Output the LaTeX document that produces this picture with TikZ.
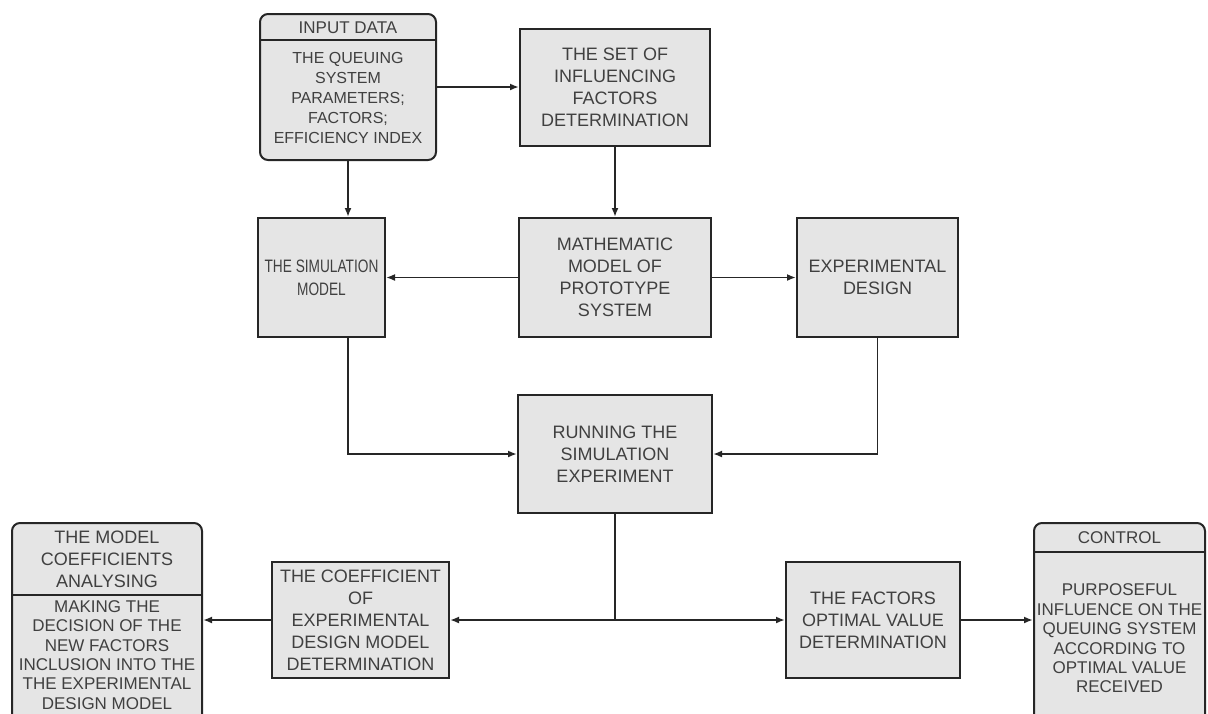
\documentclass[tikz,border=0pt]{standalone}
\usepackage{fontspec}
\setmainfont{Liberation Sans}
\newfontfamily\narrowsans{Liberation Sans}[FakeStretch=0.76]
\usetikzlibrary{arrows.meta}

\begin{document}
\begin{tikzpicture}[x=1pt,y=-1pt,>={Latex[length=9pt,width=7pt]},line width=1.8pt,
  box/.style={draw=black!85,fill=black!10,line width=2pt,text=black!75,align=center,
    font=\fontsize{18}{22}\selectfont,inner sep=2pt},
  boxtext/.style={text=black!75,align=center,font=\fontsize{17}{20}\selectfont,inner sep=0pt},
  conn/.style={draw=black!85,->}]

  \useasboundingbox (0,0) rectangle (1208,713);
  \clip (0,0) rectangle (1208,713);

  % top row
  \node[box,rounded corners=8pt,minimum width=176pt,minimum height=146pt] (input) at (348,87) {};
  \node[boxtext] (inputhead) at (348,27.5) {INPUT DATA};
  \node[boxtext,font=\fontsize{16}{20}\selectfont] (inputbody) at (348,98) {THE QUEUING\\SYSTEM\\PARAMETERS;\\FACTORS;\\EFFICIENCY INDEX};
  \draw[black!85,line width=2pt] ([yshift=-27pt]input.north west) -- ([yshift=-27pt]input.north east);

  \node[box,minimum width=190pt,minimum height=117pt] (set) at (615,87) {THE SET OF\\INFLUENCING\\FACTORS\\DETERMINATION};

  % middle row
  \node[box,font=\narrowsans\fontsize{18}{23}\selectfont,minimum width=127pt,minimum height=119pt] (sim) at (321.5,277.5) {THE SIMULATION\\MODEL};
  \node[box,minimum width=192pt,minimum height=119pt] (math) at (615,277.5) {MATHEMATIC\\MODEL OF\\PROTOTYPE\\SYSTEM};
  \node[box,minimum width=161pt,minimum height=119pt] (exp) at (877.5,277.5) {EXPERIMENTAL\\DESIGN};
  \node[box,minimum width=194pt,minimum height=118pt] (run) at (615,454) {RUNNING THE\\SIMULATION\\EXPERIMENT};

  % bottom row
  \node[box,minimum width=177pt,minimum height=116pt] (coef) at (360.5,620) {THE COEFFICIENT\\OF\\EXPERIMENTAL\\DESIGN MODEL\\DETERMINATION};
  \node[box,minimum width=174pt,minimum height=116pt] (fact) at (873,620) {THE FACTORS\\OPTIMAL VALUE\\DETERMINATION};

  \node[box,rounded corners=8pt,minimum width=190pt,minimum height=220pt] (analys) at (107,633) {};
  \node[boxtext,font=\fontsize{18}{22}\selectfont] (analyshead) at (107,559) {THE MODEL\\COEFFICIENTS\\ANALYSING};
  \node[boxtext,font=\fontsize{17}{19.4}\selectfont] (analysbody) at (107,655) {MAKING THE\\DECISION OF THE\\NEW FACTORS\\INCLUSION INTO THE\\THE EXPERIMENTAL\\DESIGN MODEL};
  \draw[black!85,line width=2pt] ([yshift=-73pt]analys.north west) -- ([yshift=-73pt]analys.north east);

  \node[box,rounded corners=8pt,minimum width=171pt,minimum height=220pt] (control) at (1119.5,633) {};
  \node[boxtext] (controlhead) at (1119.5,538) {CONTROL};
  \node[boxtext,font=\fontsize{17}{19.4}\selectfont] (controlbody) at (1119.5,638.5) {PURPOSEFUL\\INFLUENCE ON THE\\QUEUING SYSTEM\\ACCORDING TO\\OPTIMAL VALUE\\RECEIVED};
  \draw[black!85,line width=2pt] ([yshift=-30pt]control.north west) -- ([yshift=-30pt]control.north east);

  % connectors
  \draw[conn] (input.east) -- (set.west);
  \draw[conn] (input.south) -- (input.south |- sim.north);
  \draw[conn] (set.south) -- (math.north);
  \draw[conn] (math.west) -- (sim.east);
  \draw[conn] (math.east) -- (exp.west);
  \draw[conn] (input.south |- sim.south) |- (run.west);
  \draw[conn] (exp.south) |- (run.east);

  \coordinate (split) at (run.south |- coef.east);
  \draw[black!85] (run.south) -- (split);
  \draw[conn] (split) -- (coef.east);
  \draw[conn] (split) -- (fact.west);
  \draw[conn] (coef.west) -- (analys.east |- coef.west);
  \draw[conn] (fact.east) -- (control.west |- fact.east);

\end{tikzpicture}
\end{document}
